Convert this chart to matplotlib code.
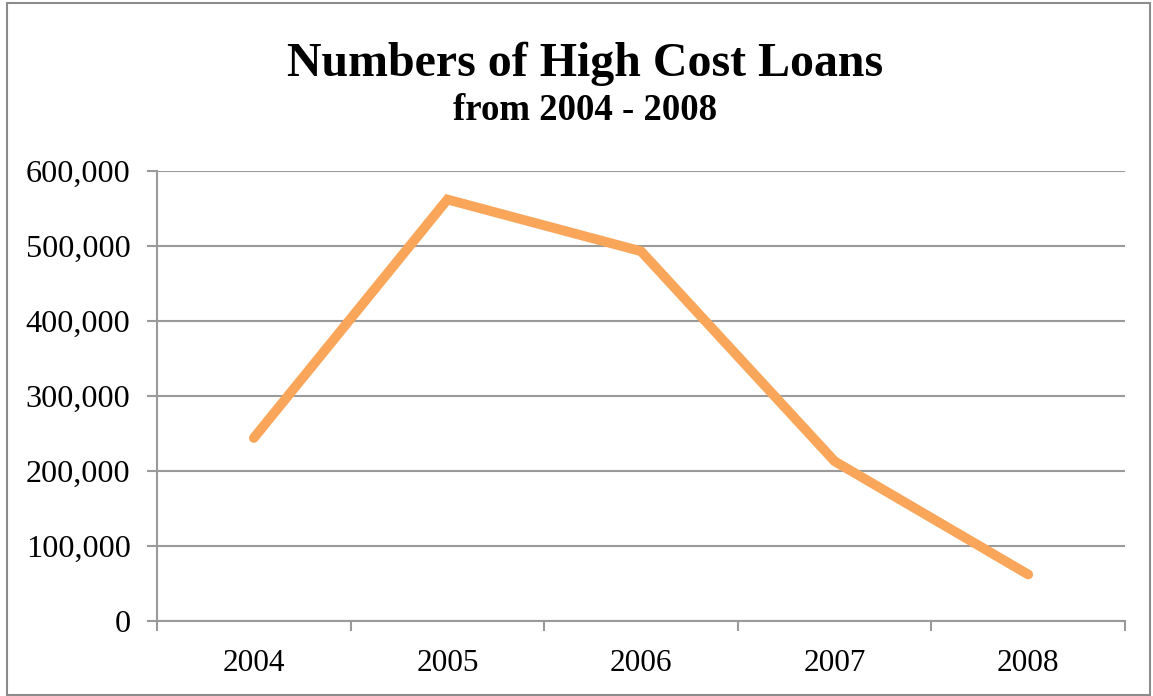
import matplotlib
matplotlib.use("Agg")
import matplotlib.pyplot as plt
from matplotlib.ticker import FuncFormatter, FixedLocator
from matplotlib.patches import Rectangle

years = ["2004", "2005", "2006", "2007", "2008"]
loans = [244000, 562000, 493000, 213000, 62000]
y_ticks = [0, 100000, 200000, 300000, 400000, 500000, 600000]

plt.rcParams['font.family'] = ['Liberation Serif', 'DejaVu Serif']

fig = plt.figure(figsize=(11.53, 6.96), dpi=100)
ax = fig.add_axes([157/1153, 1-621/696, (1125-157)/1153, (621-171)/696])

x = list(range(len(years)))
ax.plot(x, loans, color="#F9A65A", linewidth=7, solid_capstyle="round", solid_joinstyle="miter", zorder=3)

ax.set_xlim(-0.5, len(years) - 0.5)
ax.set_ylim(0, 600000)
ax.set_yticks(y_ticks)
ax.yaxis.set_major_formatter(FuncFormatter(lambda v, p: f"{int(v):,}"))
ax.grid(axis="y", color="#9a9a9a", linewidth=1.5)
ax.set_axisbelow(True)

ax.xaxis.set_major_locator(FixedLocator([i - 0.5 for i in range(len(years) + 1)]))
ax.xaxis.set_minor_locator(FixedLocator(x))
ax.set_xticklabels([])
ax.set_xticklabels(years, minor=True)
ax.tick_params(axis="x", which="major", length=7, width=1.5, color="#9a9a9a", direction="out")
ax.tick_params(axis="x", which="minor", length=0, pad=20, labelsize=22.5)
ax.tick_params(axis="y", length=7, width=1.5, color="#9a9a9a", pad=12, labelsize=23.2)

for s in ["top", "right"]:
    ax.spines[s].set_visible(False)
for s in ["left", "bottom"]:
    ax.spines[s].set_color("#9a9a9a")
    ax.spines[s].set_linewidth(1.5)

fig.text(585/1153, 1-64/696, "Numbers of High Cost Loans", ha="center", va="center",
         fontsize=34.5, fontweight="bold")
fig.text(585/1153, 1-111/696, "from 2004 - 2008", ha="center", va="center",
         fontsize=26.5, fontweight="bold")

fig.patches.append(Rectangle((7/1153, 1/696), (1150-7)/1153, (693-1)/696, transform=fig.transFigure,
                             fill=False, edgecolor="#8c8c8c", linewidth=1.5))

fig.savefig("out.png", dpi=100)
